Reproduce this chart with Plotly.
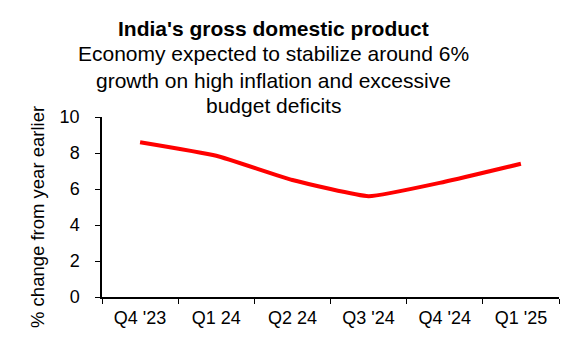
import plotly.graph_objects as go

quarters = ["Q4 '23", "Q1 24", "Q2 24", "Q3 '24", "Q4 '24", "Q1 '25"]
gdp_growth = [8.6, 7.85, 6.5, 5.6, 6.4, 7.4]
y_ticks = [0, 2, 4, 6, 8, 10]

title_text = "India's gross domestic product"
subtitle_lines = ["Economy expected to stabilize around 6%",
                  "growth on high inflation and excessive",
                  "budget deficits"]
y_title = "% change from year earlier"

FONT = "Liberation Sans, Arial, sans-serif"
OFF = 8  # page body margin
W, H = 580 - OFF, 360 - OFF
L, R, T, B = 102 - OFF, 21, 117 - OFF, 63
PW, PH = W - L - R, H - T - B

fig = go.Figure()
fig.add_trace(go.Scatter(
    x=quarters, y=gdp_growth, mode="lines",
    line=dict(color="#ff0000", width=4, shape="spline", smoothing=0.4),
    showlegend=False, hoverinfo="skip",
))

fig.update_layout(
    width=W, height=H,
    margin=dict(l=L, r=R, t=T, b=B, autoexpand=False),
    paper_bgcolor="white", plot_bgcolor="white",
    font=dict(family=FONT, color="black", size=18),
)
fig.update_xaxes(
    type="category", tickson="boundaries", ticks="outside", ticklen=5,
    tickcolor="black", showline=True, linecolor="black", linewidth=1.5,
    showgrid=False, zeroline=False, tickfont=dict(size=18),
    range=[-0.5, 5.5], automargin=False, ticklabelstandoff=4,
)
fig.update_yaxes(
    range=[0, 10], tickvals=y_ticks, ticks="outside", ticklen=5,
    tickcolor="black", showline=True, linecolor="black", linewidth=1.5,
    showgrid=False, zeroline=False, tickfont=dict(size=18),
    automargin=False, ticklabelstandoff=12,
)

def yfrac(py):
    return (H - B - (py - OFF)) / PH

def xfrac(px):
    return (px - OFF - L) / PW

fig.add_annotation(text=y_title, xref="paper", yref="paper",
                   x=xfrac(37), y=yfrac(217), xanchor="center", yanchor="middle",
                   textangle=-90, showarrow=False, font=dict(size=18.5, family=FONT))

cx = xfrac(273)
fig.add_annotation(text="<b>" + title_text + "</b>", xref="paper", yref="paper",
                   x=cx, y=yfrac(37), xanchor="center", yanchor="bottom",
                   yshift=-5, showarrow=False, font=dict(size=21, family=FONT))
baselines = [62, 89, 114]
for line, b in zip(subtitle_lines, baselines):
    fig.add_annotation(text=line, xref="paper", yref="paper",
                       x=cx, y=yfrac(b), xanchor="center", yanchor="bottom",
                       yshift=-5, showarrow=False, font=dict(size=21, family=FONT))

fig.write_html("out.html")
